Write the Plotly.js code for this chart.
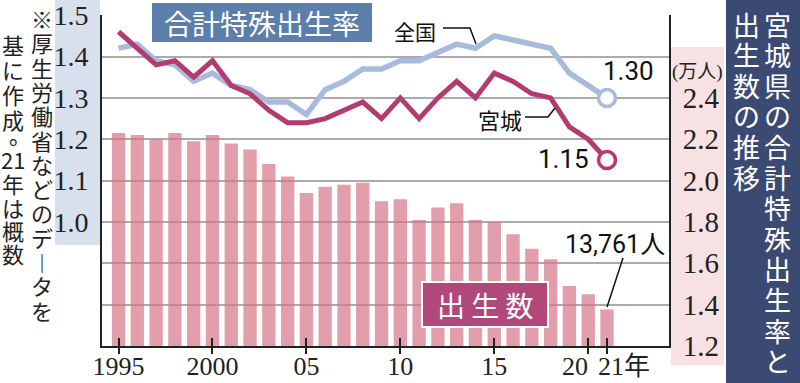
<!DOCTYPE html>
<html><head><meta charset="utf-8">
<script src="https://cdn.plot.ly/plotly-3.0.1.min.js"></script>
<style>html,body{margin:0;padding:0;background:#fff}#chart{width:800px;height:383px}</style>
</head><body><div id="chart"></div>
<script>
const years = [1995,1996,1997,1998,1999,2000,2001,2002,2003,2004,2005,2006,2007,2008,2009,2010,2011,2012,2013,2014,2015,2016,2017,2018,2019,2020,2021];
const national = [1.42,1.43,1.39,1.38,1.34,1.36,1.33,1.32,1.29,1.29,1.26,1.32,1.34,1.37,1.37,1.39,1.39,1.41,1.43,1.42,1.45,1.44,1.43,1.42,1.36,1.33,1.30];
const miyagi = [1.46,1.42,1.38,1.39,1.35,1.39,1.33,1.31,1.27,1.24,1.24,1.25,1.27,1.29,1.25,1.30,1.25,1.30,1.34,1.30,1.36,1.34,1.31,1.30,1.23,1.20,1.15];
const births = [2.23,2.22,2.20,2.23,2.19,2.22,2.18,2.15,2.08,2.02,1.94,1.97,1.98,1.99,1.90,1.91,1.81,1.87,1.89,1.81,1.80,1.74,1.67,1.62,1.49,1.45,1.3761];
const xTickVals = [1995,2000,2005,2010,2015,2020,2021];
const xTickText = ['1995','2000','05','10','15','',''];
const rateTicks = [1.0,1.1,1.2,1.3,1.4,1.5];
const rateTickText = ['1.0','1.1','1.2','1.3','1.4','1.5'];
const birthTicks = [1.2,1.4,1.6,1.8,2.0,2.2,2.4,2.6,2.8];
const birthTickText = ['1.2','1.4','1.6','1.8','2.0','2.2','2.4','',''];

const L=102, T=15, PW=567, PH=331;
const px = v => (v-L)/PW;
const py = v => (T+PH-v)/PH;
const n = years.length;
const BLUE='#a8bbdc', MAG='#b23b6f';
const SERIF='Liberation Serif, Noto Sans CJK JP, serif';
const CJK='Noto Sans CJK JP, sans-serif';
const NUM='Roboto, Noto Sans CJK JP, sans-serif';

const ann=[];
function txt(t,x,y,size,color,family,extra){ann.push(Object.assign({text:t,x:px(x),y:py(y),xref:'paper',yref:'paper',showarrow:false,xanchor:'center',yanchor:'middle',font:{size:size,color:color,family:family}},extra||{}));}
function vcol(cells,x,ys,size,color,family){cells.forEach((c,i)=>txt(c,x,ys[i],size,color,family,{borderpad:0}));}
function steps(start,step,k){const a=[];for(let i=0;i<k;i++)a.push(start+i*step);return a;}

txt('合計特殊出生率',262,23,28,'#fff',CJK);
txt('出 生 数',485,305,28,'#fff',CJK);
txt('全国',415,31,21,'#111',CJK);
txt('宮城',500,119,22,'#111',CJK);
txt('1.30',628,71,26,'#111',NUM);
txt('1.15',563,159,26,'#111',NUM);
txt('13,761人',615,244,25,'#111',NUM);
txt('(万人)',697,72,19,'#222',SERIF);
txt('20',589,366,26,'#222',SERIF,{xanchor:'right',borderpad:0});
txt('21年',597,366,26,'#222',SERIF,{xanchor:'left',borderpad:0});

const rc1=['宮','城','県','の','合','計','特','殊','出','生','率','と'];
const rc2=['出','生','数','の','推','移'];
vcol(rc1,777,steps(24,30.6,12),27,'#fff',CJK);
vcol(rc2,746,steps(24,30.6,6),27,'#fff',CJK);
const nc1=['※','厚','生','労','働','省','な','ど','の','デ','︱','タ','を'];
const nc2=['基','に','作','成','21','年','は','概','数'];
vcol(nc1,42,steps(18,24.3,13),22,'#222',CJK);
vcol(nc2,13,[44,69,94,119,159,183,207,230,253],22,'#222',CJK);
txt('。',20,134,22,'#222',CJK,{borderpad:0});

const shapes=[
 {type:'rect',xref:'paper',yref:'paper',x0:px(55),x1:px(100),y0:py(245),y1:py(0),fillcolor:'#d8e0ee',line:{width:0},layer:'below'},
 {type:'rect',xref:'paper',yref:'paper',x0:px(671),x1:px(724),y0:py(365),y1:py(47),fillcolor:'#f7e1e3',line:{width:0},layer:'below'},
 {type:'rect',xref:'paper',yref:'paper',x0:px(726),x1:px(800),y0:py(383),y1:py(0),fillcolor:'#3b4a73',line:{width:0},layer:'below'},
 {type:'rect',xref:'paper',yref:'paper',x0:px(152),x1:px(372),y0:py(42),y1:py(3),fillcolor:'#5b7eaa',line:{width:0},layer:'above'},
 {type:'rect',xref:'paper',yref:'paper',x0:px(422),x1:px(548),y0:py(327),y1:py(282),fillcolor:'#b0487a',line:{width:2,color:'#fff'},layer:'above'},
 {type:'path',xref:'paper',yref:'paper',path:`M${px(443)},${py(28)} L${px(470)},${py(28)} L${px(476)},${py(44)}`,line:{width:1.5,color:'#111'},layer:'above'},
 {type:'path',xref:'paper',yref:'paper',path:`M${px(525)},${py(117)} L${px(548)},${py(117)} L${px(555)},${py(108)}`,line:{width:1.5,color:'#111'},layer:'above'},
 {type:'path',xref:'paper',yref:'paper',path:`M${px(623)},${py(258)} L${px(607)},${py(307)}`,line:{width:1.5,color:'#111'},layer:'above'}
];

const traces=[
 {type:'bar',x:years,y:births,xaxis:'x',yaxis:'y',marker:{color:'rgba(214,118,135,0.7)',line:{width:0}},hoverinfo:'skip'},
 {type:'scatter',mode:'lines',x:years,y:national,xaxis:'x2',yaxis:'y2',line:{color:BLUE,width:5.5},hoverinfo:'skip'},
 {type:'scatter',mode:'lines',x:years,y:miyagi,xaxis:'x2',yaxis:'y2',line:{color:MAG,width:5},hoverinfo:'skip'},
 {type:'scatter',mode:'markers',x:[years[n-1]],y:[national[n-1]],xaxis:'x2',yaxis:'y2',marker:{size:17,color:'#fff',line:{color:BLUE,width:3.5}},hoverinfo:'skip'},
 {type:'scatter',mode:'markers',x:[years[n-1]],y:[miyagi[n-1]],xaxis:'x2',yaxis:'y2',marker:{size:17,color:'#fff',line:{color:MAG,width:3.5}},hoverinfo:'skip'}
];

const xr=[1994.12,2024.3];
const layout={
 width:800,height:383,margin:{l:L,r:800-L-PW,t:T,b:383-T-PH},
 paper_bgcolor:'#fff',plot_bgcolor:'rgba(0,0,0,0)',showlegend:false,bargap:0.29,
 xaxis:{range:xr,tickvals:xTickVals,ticktext:xTickText,ticks:'inside',ticklen:8,tickwidth:2,tickcolor:'#222',
   showline:true,linecolor:'#222',linewidth:2,showgrid:false,zeroline:false,tickangle:0,ticklabelstandoff:-4,
   tickfont:{family:SERIF,size:26,color:'#222'},fixedrange:true},
 xaxis2:{overlaying:'x',anchor:'y2',range:xr,tickvals:xTickVals,ticks:'outside',ticklen:7,tickwidth:2,tickcolor:'#222',
   showticklabels:false,showline:false,showgrid:false,zeroline:false,fixedrange:true},
 yaxis:{side:'right',range:[1.2,2.801],tickvals:birthTicks,ticktext:birthTickText,showgrid:true,gridcolor:'#ababab',gridwidth:2,
   showline:true,linecolor:'#222',linewidth:2,ticks:'',zeroline:false,ticklabelstandoff:6,
   tickfont:{family:SERIF,size:29,color:'#222'},fixedrange:true},
 yaxis2:{overlaying:'y',side:'left',anchor:'x2',range:[0.7,1.5005],tickvals:rateTicks,ticktext:rateTickText,showgrid:false,
   showline:true,linecolor:'#222',linewidth:2,ticks:'',zeroline:false,ticklabelstandoff:6,
   tickfont:{family:SERIF,size:28,color:'#222'},fixedrange:true},
 shapes:shapes,annotations:ann
};
Plotly.newPlot('chart',traces,layout,{staticPlot:true,displayModeBar:false});
</script></body></html>
